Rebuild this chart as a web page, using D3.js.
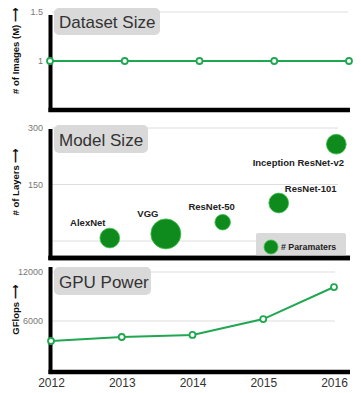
<!DOCTYPE html>
<html><head><meta charset="utf-8">
<script src="https://cdn.jsdelivr.net/npm/d3@7"></script>
<style>body{margin:0;background:#fff}svg{display:block}</style>
</head><body>
<svg id="c" width="361" height="393"></svg>
<script>
const years = [2012, 2013, 2014, 2015, 2016];
const datasetSize = [1, 1, 1, 1, 1];
const models = ["AlexNet", "VGG", "ResNet-50", "ResNet-101", "Inception ResNet-v2"];
const modelYear = [2012.8, 2013.55, 2014.31, 2015.06, 2015.83];
const modelLayers = [8, 19, 50, 101, 257];
const modelParams = [60, 138, 37, 60, 60];
const gpuGflops = [3550, 4040, 4290, 6240, 10160];
const datasetTicks = [1, 1.5];
const layerTicks = [150, 300];
const gflopTicks = [6000, 12000];

const svg = d3.select("#c");
const FONT = "'Liberation Sans', Arial, Helvetica, sans-serif";
const lineGreen = "#21a651";
const bubbleGreen = "#0f8a1c";

function frame(y, top, bottom, xEnd, ticks, fmt, gridEnd, label, labelY) {
  const g = svg.append("g");
  g.selectAll("line.grid").data(ticks).join("line")
    .attr("x1", 52).attr("x2", gridEnd)
    .attr("y1", d => y(d)).attr("y2", d => y(d))
    .attr("stroke", "#dddddd").attr("stroke-width", 1);
  g.selectAll("text.tick").data(ticks).join("text")
    .attr("x", 43).attr("y", d => y(d)).attr("dy", "0.35em")
    .attr("text-anchor", "end").attr("font-family", FONT).attr("font-size", 9)
    .attr("fill", "#777").text(fmt);
  g.append("line").attr("x1", 50.5).attr("x2", 50.5).attr("y1", top).attr("y2", bottom + 2)
    .attr("stroke", "#000").attr("stroke-width", 4);
  g.append("line").attr("x1", 48.5).attr("x2", xEnd).attr("y1", bottom).attr("y2", bottom)
    .attr("stroke", "#000").attr("stroke-width", 4.5);
  g.append("text").attr("transform", `translate(19,${labelY}) rotate(-90)`)
    .attr("text-anchor", "middle").attr("font-family", FONT).attr("font-weight", "bold")
    .attr("font-size", 9.5).attr("fill", "#111").text(label);
  return g;
}

function titleBox(x, y, w, h, txt, base) {
  svg.append("rect").attr("x", x).attr("y", y).attr("width", w).attr("height", h)
    .attr("rx", 5).attr("fill", "#d9d9d9");
  svg.append("text").attr("x", x + 5).attr("y", base).attr("font-family", FONT)
    .attr("font-size", 17).attr("fill", "#333").text(txt);
}

// Panel 1: Dataset Size
const x1 = d3.scaleLinear().domain([2012, 2016]).range([50, 349]);
const y1 = d3.scaleLinear().domain([0.5, 1.5]).range([110, 12]);
frame(y1, 15, 110, 350, datasetTicks, d => d, 348, "# of Images (M) \u27F6", 51);
titleBox(54, 8, 106, 27, "Dataset Size", 28);
svg.append("path").datum(years.map((yr, i) => [yr, datasetSize[i]]))
  .attr("d", d3.line().x(d => x1(d[0])).y(d => y1(d[1])))
  .attr("fill", "none").attr("stroke", lineGreen).attr("stroke-width", 2);
svg.selectAll("circle.p1").data(years).join("circle")
  .attr("cx", d => x1(d)).attr("cy", (d, i) => y1(datasetSize[i])).attr("r", 3)
  .attr("fill", "#fff").attr("stroke", lineGreen).attr("stroke-width", 1.8);

// Panel 2: Model Size
const y2 = d3.scaleLinear().domain([-45, 300]).range([258, 128]);
const r2 = d3.scaleSqrt().domain([0, 138]).range([0, 15]);
frame(y2, 129, 258, 350, [0].concat(layerTicks), d => d === 0 ? "" : d, 338, "# of Layers \u27F6", 182);
titleBox(54, 125, 94, 28, "Model Size", 146);
const labelOffsets = [[-22, -12], [-18, -17], [-11, -12], [32, -11], [-38, 22]];
svg.selectAll("circle.b").data(models).join("circle")
  .attr("cx", (d, i) => x1(modelYear[i])).attr("cy", (d, i) => y2(modelLayers[i]))
  .attr("r", (d, i) => r2(modelParams[i]))
  .attr("fill", bubbleGreen).attr("stroke", "#3cc04a").attr("stroke-width", 0.8);
svg.selectAll("text.bl").data(models).join("text")
  .attr("x", (d, i) => x1(modelYear[i]) + labelOffsets[i][0])
  .attr("y", (d, i) => y2(modelLayers[i]) + labelOffsets[i][1])
  .attr("text-anchor", "middle").attr("font-family", FONT).attr("font-weight", "bold")
  .attr("font-size", 9.5).attr("fill", "#222").text(d => d);
// legend
svg.append("rect").attr("x", 256).attr("y", 233).attr("width", 90).attr("height", 23)
  .attr("rx", 2).attr("fill", "#d9d9d9");
svg.append("circle").attr("cx", 271).attr("cy", 247).attr("r", 7)
  .attr("fill", bubbleGreen).attr("stroke", "#3cc04a").attr("stroke-width", 0.8);
svg.append("text").attr("x", 281).attr("y", 250).attr("font-family", FONT)
  .attr("font-weight", "bold").attr("font-size", 8.8).attr("fill", "#222").text("# Paramaters");
// redraw bottom axis over legend
svg.append("line").attr("x1", 48.5).attr("x2", 350).attr("y1", 258).attr("y2", 258)
  .attr("stroke", "#000").attr("stroke-width", 4.5);

// Panel 3: GPU Power
const x3 = d3.scaleLinear().domain([2012, 2016]).range([51, 334]);
const y3 = d3.scaleLinear().domain([0, 12000]).range([370, 272]);
frame(y3, 267, 372, 350, gflopTicks, d => d, 335, "GFlops \u27F6", 310);
titleBox(54, 267, 97, 28, "GPU Power", 288);
svg.append("path").datum(years.map((yr, i) => [yr, gpuGflops[i]]))
  .attr("d", d3.line().x(d => x3(d[0])).y(d => y3(d[1])))
  .attr("fill", "none").attr("stroke", lineGreen).attr("stroke-width", 2);
svg.selectAll("circle.p3").data(years).join("circle")
  .attr("cx", d => x3(d)).attr("cy", (d, i) => y3(gpuGflops[i])).attr("r", 3)
  .attr("fill", "#fff").attr("stroke", lineGreen).attr("stroke-width", 1.8);
const xAxis = d3.axisBottom(x3).tickValues(years).tickFormat(d3.format("d")).tickSize(0).tickPadding(0);
const ax = svg.append("g").attr("transform", "translate(0,378)").call(xAxis);
ax.select(".domain").remove();
ax.selectAll("text").attr("font-family", FONT).attr("font-size", 12).attr("fill", "#333").attr("dy", "0.71em");
</script>
</body></html>
